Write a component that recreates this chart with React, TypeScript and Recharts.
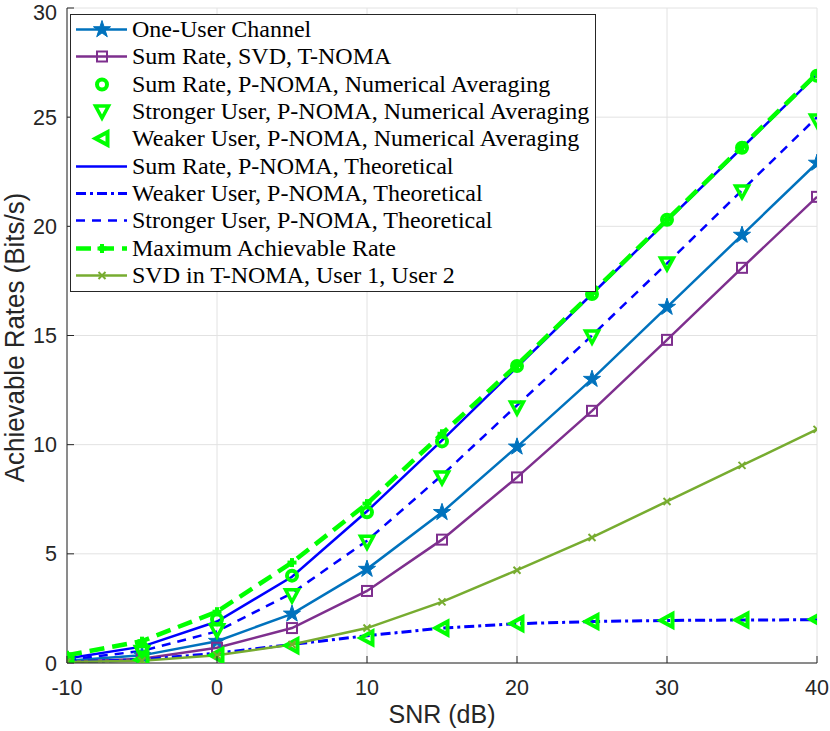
import React from 'react';
import { LineChart, Line, XAxis, YAxis, CartesianGrid, Legend } from 'recharts';

const snr = [-10, -5, 0, 5, 10, 15, 20, 25, 30, 35, 40];
const oneUser = [0.1, 0.35, 1.0, 2.25, 4.3, 6.9, 9.9, 13.0, 16.3, 19.6, 22.9];
const sumSvd = [0.05, 0.2, 0.7, 1.6, 3.3, 5.65, 8.5, 11.55, 14.8, 18.1, 21.35];
const sumNum = [0.2, 0.7, 2.0, 4.0, 6.9, 10.15, 13.6, 16.9, 20.3, 23.6, 26.9];
const strongNum = [0.15, 0.5, 1.5, 3.1, 5.55, 8.5, 11.7, 14.95, 18.3, 21.6, 24.85];
const weakNum = [0.05, 0.15, 0.35, 0.8, 1.15, 1.6, 1.8, 1.9, 1.95, 1.97, 2.0];
const sumTheo = [0.2, 0.75, 1.9, 3.95, 6.95, 10.2, 13.55, 16.9, 20.25, 23.6, 26.95];
const weakTheo = [0.05, 0.15, 0.45, 0.85, 1.25, 1.6, 1.8, 1.9, 1.95, 1.97, 1.98];
const strongTheo = [0.15, 0.55, 1.45, 3.2, 5.6, 8.6, 11.8, 15.0, 18.3, 21.65, 25.0];
const maxRate = [0.35, 1.0, 2.35, 4.6, 7.3, 10.5, 13.65, 16.95, 20.3, 23.65, 27.0];
const svdUsers = [0.05, 0.1, 0.35, 0.85, 1.6, 2.8, 4.25, 5.75, 7.4, 9.05, 10.7];

const xTicks = [-10, 0, 10, 20, 30, 40];
const yTicks = [0, 5, 10, 15, 20, 25, 30];

const data = snr.map((s, i) => ({
  snr: s,
  oneUser: oneUser[i],
  sumSvd: sumSvd[i],
  sumNum: sumNum[i],
  strongNum: strongNum[i],
  weakNum: weakNum[i],
  sumTheo: sumTheo[i],
  weakTheo: weakTheo[i],
  strongTheo: strongTheo[i],
  maxRate: maxRate[i],
  svdUsers: svdUsers[i],
}));

const C_ONE = '#0072BD';
const C_PUR = '#7E2F8E';
const C_LIME = '#00FF00';
const C_BLUE = '#0000FF';
const C_OLIVE = '#77AC30';
const AX = '#262626';

type MK = 'star' | 'square' | 'circle' | 'tridown' | 'trileft' | 'plus' | 'x' | 'none';

function Marker({ kind, cx, cy, color }: { kind: MK; cx: number; cy: number; color: string }) {
  if (cx == null || cy == null || isNaN(cx) || isNaN(cy)) return null;
  switch (kind) {
    case 'star': {
      const R = 9, r = R * 0.382;
      const pts: string[] = [];
      for (let k = 0; k < 10; k++) {
        const a = -Math.PI / 2 + (k * Math.PI) / 5;
        const rr = k % 2 === 0 ? R : r;
        pts.push(`${cx + rr * Math.cos(a)},${cy + rr * Math.sin(a)}`);
      }
      return <polygon points={pts.join(' ')} fill={color} stroke={color} strokeWidth={1} />;
    }
    case 'square':
      return <rect x={cx - 5} y={cy - 5} width={10} height={10} fill="none" stroke={color} strokeWidth={2} />;
    case 'circle':
      return <circle cx={cx} cy={cy} r={5} fill="none" stroke={color} strokeWidth={4} />;
    case 'tridown':
      return <polygon points={`${cx - 6.5},${cy - 5.5} ${cx + 6.5},${cy - 5.5} ${cx},${cy + 6.5}`} fill="none" stroke={color} strokeWidth={3.5} />;
    case 'trileft':
      return <polygon points={`${cx + 5.5},${cy - 6.5} ${cx + 5.5},${cy + 6.5} ${cx - 6.5},${cy}`} fill="none" stroke={color} strokeWidth={4} />;
    case 'plus':
      return (
        <g stroke={color} strokeWidth={4}>
          <line x1={cx - 4.5} x2={cx + 4.5} y1={cy} y2={cy} />
          <line x1={cx} x2={cx} y1={cy - 4.5} y2={cy + 4.5} />
        </g>
      );
    case 'x':
      return (
        <g stroke={color} strokeWidth={2}>
          <line x1={cx - 3.5} x2={cx + 3.5} y1={cy - 3.5} y2={cy + 3.5} />
          <line x1={cx - 3.5} x2={cx + 3.5} y1={cy + 3.5} y2={cy - 3.5} />
        </g>
      );
    default:
      return null;
  }
}

type SeriesCfg = {
  key: string;
  name: string;
  color: string;
  width: number;
  dash?: string;
  marker: MK;
  noLine?: boolean;
};

const series: SeriesCfg[] = [
  { key: 'oneUser', name: 'One-User Channel', color: C_ONE, width: 2.5, marker: 'star' },
  { key: 'sumSvd', name: 'Sum Rate, SVD, T-NOMA', color: C_PUR, width: 2.5, marker: 'square' },
  { key: 'sumNum', name: 'Sum Rate, P-NOMA, Numerical Averaging', color: C_LIME, width: 0, marker: 'circle', noLine: true },
  { key: 'strongNum', name: 'Stronger User, P-NOMA, Numerical Averaging', color: C_LIME, width: 0, marker: 'tridown', noLine: true },
  { key: 'weakNum', name: 'Weaker User, P-NOMA, Numerical Averaging', color: C_LIME, width: 0, marker: 'trileft', noLine: true },
  { key: 'sumTheo', name: 'Sum Rate, P-NOMA, Theoretical', color: C_BLUE, width: 2.5, marker: 'none' },
  { key: 'weakTheo', name: 'Weaker User, P-NOMA, Theoretical', color: C_BLUE, width: 3, dash: '10 4 3 4', marker: 'none' },
  { key: 'strongTheo', name: 'Stronger User, P-NOMA, Theoretical', color: C_BLUE, width: 2.5, dash: '9 7', marker: 'none' },
  { key: 'maxRate', name: 'Maximum Achievable Rate', color: C_LIME, width: 4.5, dash: '15 8', marker: 'plus' },
  { key: 'svdUsers', name: 'SVD in T-NOMA, User 1, User 2', color: C_OLIVE, width: 2.5, marker: 'x' },
];

const SANS = '"Liberation Sans", Arial, sans-serif';
const TICK_FONT = { fontFamily: SANS, fontSize: 21.5, fill: AX };

const XTick = (props: any) => {
  const { x, y, payload } = props;
  return (
    <g>
      <line x1={x} x2={x} y1={y} y2={y - 7} stroke={AX} strokeWidth={1} />
      <text x={x} y={y + 32} textAnchor="middle" {...TICK_FONT}>{payload.value}</text>
    </g>
  );
};
const TopTick = (props: any) => {
  const { x, y } = props;
  return <line x1={x} x2={x} y1={y} y2={y + 7} stroke={AX} strokeWidth={1} />;
};
const YTick = (props: any) => {
  const { x, y, payload } = props;
  const base = Math.max(y + 7.5, 19.5);
  return (
    <g>
      <line x1={x} x2={x + 7} y1={y} y2={y} stroke={AX} strokeWidth={1} />
      <text x={x - 10} y={base} textAnchor="end" {...TICK_FONT}>{payload.value}</text>
    </g>
  );
};
const RightTick = (props: any) => {
  const { x, y } = props;
  return <line x1={x} x2={x - 7} y1={y} y2={y} stroke={AX} strokeWidth={1} />;
};

const XLabel = (props: any) => {
  const vb = props.viewBox || {};
  return (
    <text x={vb.x + vb.width / 2} y={723} textAnchor="middle" fontFamily={SANS} fontSize={25} fill={AX}>
      SNR (dB)
    </text>
  );
};
const YLabel = (props: any) => {
  const vb = props.viewBox || {};
  const cy = vb.y + vb.height / 2 + 2;
  return (
    <text
      x={0}
      y={0}
      transform={`translate(24, ${cy}) rotate(-90) scale(0.96, 1)`}
      textAnchor="middle"
      fontFamily={SANS}
      fontSize={27}
      fill={AX}
    >
      Achievable Rates (Bits/s)
    </text>
  );
};

const LegendContent = () => (
  <div
    style={{
      width: 524,
      height: 275,
      border: `1px solid ${AX}`,
      background: 'white',
      paddingTop: 1,
      boxSizing: 'content-box',
    }}
  >
    {series.map((s) => (
      <div key={s.key} style={{ display: 'flex', alignItems: 'center', height: 27.3 }}>
        <svg width={61} height={27} style={{ display: 'block', flex: 'none' }}>
          {!s.noLine && (
            <line x1={5} x2={56} y1={13.5} y2={13.5} stroke={s.color} strokeWidth={s.width} strokeDasharray={s.dash} />
          )}
          <Marker kind={s.marker} cx={31} cy={13.5} color={s.color} />
        </svg>
        <span
          style={{
            fontFamily: '"Liberation Serif", "Times New Roman", serif',
            fontSize: 24,
            color: '#000',
            whiteSpace: 'nowrap',
            lineHeight: '27px',
          }}
        >
          {s.name}
        </span>
      </div>
    ))}
  </div>
);

export default function App() {
  return (
    <div style={{ position: 'absolute', left: 0, top: 0, width: 830, height: 731, background: 'white' }}>
      <LineChart width={830} height={731} data={data} margin={{ top: 8, right: 13, bottom: 0, left: 0 }}>
        <CartesianGrid stroke="#e2e2e2" strokeWidth={1} />
        <XAxis
          dataKey="snr"
          type="number"
          domain={[-10, 40]}
          ticks={xTicks}
          allowDataOverflow
          height={68}
          tickLine={false}
          tickSize={0}
          tickMargin={0}
          axisLine={{ stroke: AX, strokeWidth: 1 }}
          tick={<XTick />}
          interval={0}
          label={<XLabel />}
        />
        <XAxis
          xAxisId="top"
          orientation="top"
          type="number"
          domain={[-10, 40]}
          ticks={xTicks}
          allowDataOverflow
          height={0}
          tickLine={false}
          tickSize={0}
          tickMargin={0}
          axisLine={{ stroke: AX, strokeWidth: 1 }}
          tick={<TopTick />}
          interval={0}
        />
        <YAxis
          type="number"
          domain={[0, 30]}
          ticks={yTicks}
          allowDataOverflow
          width={67}
          tickLine={false}
          tickSize={0}
          tickMargin={0}
          axisLine={{ stroke: AX, strokeWidth: 1 }}
          tick={<YTick />}
          interval={0}
          label={<YLabel />}
        />
        <YAxis
          yAxisId="right"
          orientation="right"
          type="number"
          domain={[0, 30]}
          ticks={yTicks}
          allowDataOverflow
          width={0}
          tickLine={false}
          tickSize={0}
          tickMargin={0}
          axisLine={{ stroke: AX, strokeWidth: 1 }}
          tick={<RightTick />}
          interval={0}
        />
        {series.map((s) => (
          <Line
            key={s.key}
            dataKey={s.key}
            name={s.name}
            type="linear"
            stroke={s.noLine ? 'none' : s.color}
            strokeWidth={s.width}
            strokeDasharray={s.dash}
            isAnimationActive={false}
            activeDot={false}
            dot={(p: any) => <Marker key={`${s.key}-${p.index}`} kind={s.marker} cx={p.cx} cy={p.cy} color={s.color} />}
          />
        ))}
        <Legend
          layout="vertical"
          align="center"
          verticalAlign="middle"
          content={<LegendContent />}
          wrapperStyle={{ position: 'absolute', left: 70, top: 14, width: 526, height: 277 }}
        />
      </LineChart>
    </div>
  );
}
